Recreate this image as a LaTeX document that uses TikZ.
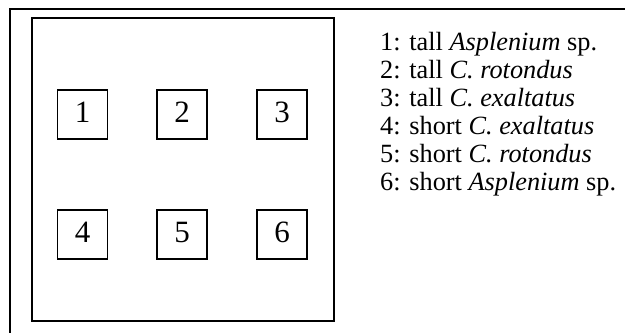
\documentclass[tikz,border=0pt]{standalone}
\usepackage{fontspec}
\setmainfont{Liberation Serif}
\begin{document}
\begin{tikzpicture}[x=1pt,y={(0pt,-1pt)},
  frame/.style={line width=1.8pt},
  plot/.style={draw,line width=1.3pt,minimum width=50pt,minimum height=49pt,inner sep=0pt,
    text height=21pt,text depth=5pt,font=\fontsize{31}{35}\selectfont},
  legend/.style={anchor=base west,inner sep=0pt,font=\fontsize{26.3}{30}\selectfont}]
\useasboundingbox (0,0) rectangle (625,333);
\draw[frame] (625,9) -- (10,9) -- (10,333);
\draw[frame] (32,18) rectangle (334,321);
\node[plot] (p1) at (82.5,114.5) {1};
\node[plot] (p2) at (182,114.5) {2};
\node[plot] (p3) at (282,114.5) {3};
\node[plot] (p4) at (82.5,234.5) {4};
\node[plot] (p5) at (182,234.5) {5};
\node[plot] (p6) at (282,234.5) {6};
\node[legend] (l1) at (380,50) {1: tall \textit{Asplenium} sp.};
\node[legend] (l2) at (380,78) {2: tall \textit{C. rotondus}};
\node[legend] (l3) at (380,106) {3: tall \textit{C. exaltatus}};
\node[legend] (l4) at (380,134) {4: short \textit{C. exaltatus}};
\node[legend] (l5) at (380,162) {5: short \textit{C. rotondus}};
\node[legend] (l6) at (380,190) {6: short \textit{Asplenium} sp.};
\end{tikzpicture}
\end{document}
